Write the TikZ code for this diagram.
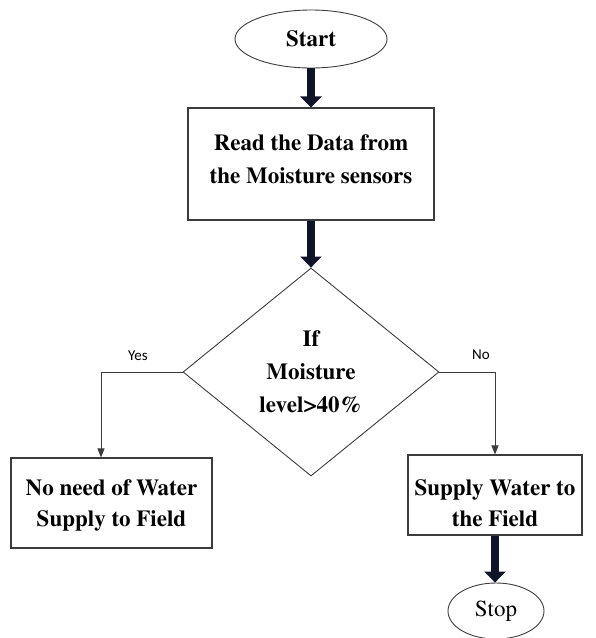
\documentclass[tikz,border=0pt]{standalone}
\usepackage{fontspec}
\newfontfamily\yesnofont{Carlito}
\newcommand\timesface{\fontencoding{T1}\fontfamily{ptm}\selectfont}
\usetikzlibrary{shapes.geometric,arrows.meta,calc}

\definecolor{arrowink}{RGB}{16,20,40}
\definecolor{lineink}{RGB}{60,60,60}

\begin{document}
\begin{tikzpicture}[x=1pt,y=-1pt,
    terminal/.style={draw=lineink, line width=0.9pt, ellipse, inner sep=0pt, font=\fontsize{23}{30}\timesface},
    process/.style={draw=lineink, line width=1.1pt, inner sep=0pt},
    boxtext/.style={inner sep=0pt, align=center, font=\fontsize{23}{31}\timesface\bfseries},
    decision/.style={draw=lineink, line width=0.9pt, diamond, aspect=1.2, inner sep=0pt, align=center, font=\fontsize{23}{33}\timesface\bfseries},
    flow/.style={arrowink, line width=8.5pt, -{Triangle[width=21pt,length=11pt]}},
    branch/.style={lineink, line width=1pt, -{Triangle[width=7pt,length=9pt]}},
    answer/.style={font=\fontsize{15}{15}\selectfont\yesnofont}]

    % Fix the page size
    \useasboundingbox (0,0) rectangle (596,638);

    % Place the blocks of the chart
    \node[terminal, minimum width=152pt, minimum height=58pt, font=\fontsize{23}{30}\timesface\bfseries] (start) at (311,39) {Start};
    \node[process, minimum width=246pt, minimum height=112pt] (read) at (311,164) {};
    \node[decision, minimum width=256pt, minimum height=208pt] (check) at (311,372) {If\\Moisture\\level>40\%};
    \node[process, minimum width=201pt, minimum height=90pt] (nowater) at (111.5,503) {};
    \node[process, minimum width=174pt, minimum height=80pt] (supply) at (495,495) {};
    \node[terminal, minimum width=96pt, minimum height=56pt] (stop) at (496,611) {Stop};

    % Texts of the boxes
    \node[boxtext, font=\fontsize{23}{33}\timesface\bfseries] (readtext) at (311,159.5) {Read the Data from\\the Moisture sensors};
    \node[boxtext] (nowatertext) at (111.5,505) {No need of Water\\Supply to Field};
    \node[boxtext] (supplytext) at (495,503.5) {Supply Water to\\the Field};

    % Bends of the two branches
    \coordinate (yesturn) at (101,372);
    \coordinate (noturn) at (495,372);

    % Draw the main flow
    \draw[flow] (start.south) -- (read.north);
    \draw[flow] (read.south) -- (check.north);
    \draw[flow] (supply.south) -- (supply.south |- stop.north);

    % Draw the branches
    \draw[branch] (check.west) -- (yesturn) -- (yesturn |- nowater.north);
    \draw[branch] (check.east) -- (noturn) -- (supply.north);

    % Place the branch labels
    \node[answer] (yes) at (138,356) {Yes};
    \node[answer] (no) at (481,355) {No};

\end{tikzpicture}
\end{document}
